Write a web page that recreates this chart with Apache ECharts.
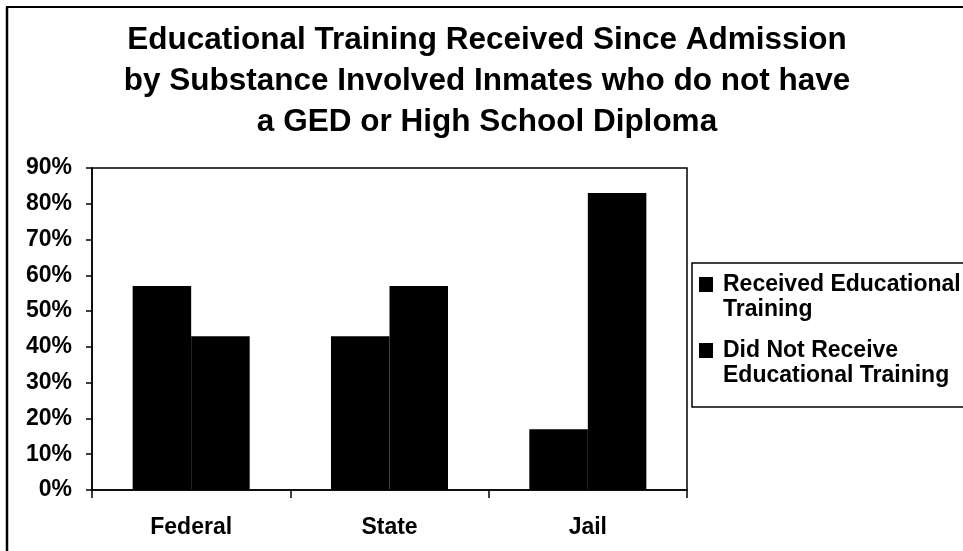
<!DOCTYPE html>
<html>
<head>
<meta charset="utf-8">
<script src="https://cdn.jsdelivr.net/npm/echarts@6/dist/echarts.min.js"></script>
<style>
  html, body { margin: 0; padding: 0; background: #fff; }
  #chart { width: 963px; height: 551px; }
</style>
</head>
<body>
<div id="chart"></div>
<script>
// Facility types along the x axis
const categories = ['Federal', 'State', 'Jail'];
// Share of inmates (percent) in each group
const receivedTraining = [57, 43, 17];
const notReceivedTraining = [43, 57, 83];
const seriesNames = ['Received Educational\nTraining', 'Did Not Receive\nEducational Training'];
// Value axis ticks (percent)
const yMin = 0, yMax = 90, yStep = 10;

const FONT = '"Liberation Sans", Arial, sans-serif';
const chart = echarts.init(document.getElementById('chart'), null, { renderer: 'canvas' });

chart.setOption({
  animation: false,
  backgroundColor: '#fff',
  title: {
    text: 'Educational Training Received Since Admission\nby Substance Involved Inmates who do not have\na GED or High School Diploma',
    left: 482,
    top: 15,
    textAlign: 'center',
    textStyle: {
      fontFamily: FONT,
      fontSize: 31.5,
      fontWeight: 'bold',
      color: '#000',
      lineHeight: 41
    }
  },
  grid: {
    left: 92, right: 276, top: 168, bottom: 61,
    show: true,
    borderColor: '#000',
    borderWidth: 1.5,
    backgroundColor: 'transparent'
  },
  legend: {
    orient: 'vertical',
    left: 699,
    top: 247,
    padding: 0,
    itemWidth: 14,
    itemHeight: 15,
    itemGap: -9,
    icon: 'rect',
    selectedMode: false,
    // a leading empty line keeps the marker beside the first text line
    formatter: name => '\n' + name.split('\n').map(s => '{t|' + s + '}').join('\n'),
    textStyle: {
      fontFamily: FONT,
      fontSize: 23,
      fontWeight: 'bold',
      lineHeight: 25,
      color: '#000',
      rich: {
        t: {
          fontFamily: FONT,
          fontSize: 23,
          fontWeight: 'bold',
          lineHeight: 25,
          color: '#000',
          padding: [0, 0, 0, 5]
        }
      }
    },
    data: seriesNames
  },
  xAxis: {
    type: 'category',
    data: categories,
    axisLine: { lineStyle: { color: '#000', width: 1.5 } },
    axisTick: { show: true, length: 8, lineStyle: { color: '#000', width: 1.5 } },
    axisLabel: { fontFamily: FONT, fontSize: 23, fontWeight: 'bold', color: '#000', margin: 26 }
  },
  yAxis: {
    type: 'value',
    min: yMin, max: yMax, interval: yStep,
    axisLine: { show: true, lineStyle: { color: '#000', width: 1.5 } },
    axisTick: { show: true, length: 6, lineStyle: { color: '#000', width: 1.5 } },
    splitLine: { show: false },
    axisLabel: { fontFamily: FONT, fontSize: 23, fontWeight: 'bold', color: '#000', margin: 20, formatter: '{value}%' }
  },
  series: [
    {
      name: seriesNames[0],
      type: 'bar',
      data: receivedTraining,
      barGap: '0%',
      barCategoryGap: '41%',
      itemStyle: { color: '#000' }
    },
    {
      name: seriesNames[1],
      type: 'bar',
      data: notReceivedTraining,
      barGap: '0%',
      barCategoryGap: '41%',
      itemStyle: { color: '#000' }
    }
  ],
  graphic: [
    // outer frame: left and top edges
    { type: 'line', shape: { x1: 7, y1: 7, x2: 7, y2: 551 }, style: { stroke: '#000', lineWidth: 2.5 } },
    { type: 'line', shape: { x1: 6, y1: 7, x2: 963, y2: 7 }, style: { stroke: '#000', lineWidth: 2 } },
    // legend frame
    { type: 'rect', shape: { x: 692, y: 263, width: 300, height: 144 }, style: { fill: 'none', stroke: '#000', lineWidth: 1.5 }, z: 100 }
  ]
});
</script>
</body>
</html>
